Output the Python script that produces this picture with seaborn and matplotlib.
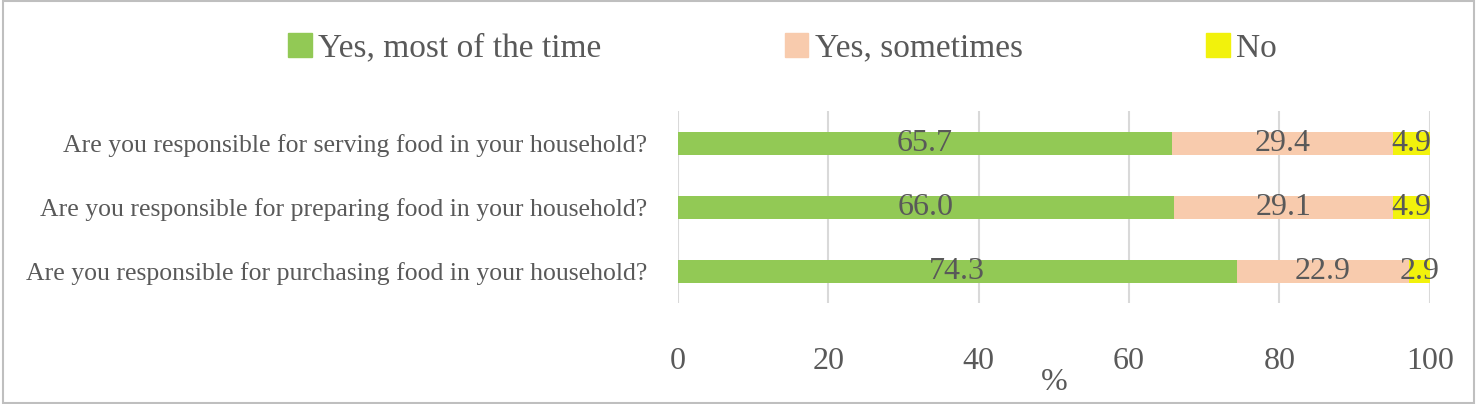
import matplotlib
matplotlib.use("Agg")
import matplotlib.pyplot as plt
import seaborn as sns
import pandas as pd
import numpy as np

categories = ["Are you responsible for serving food in your household?",
              "Are you responsible for preparing food in your household?",
              "Are you responsible for purchasing food in your household?"]
most = [65.7, 66.0, 74.3]
sometimes = [29.4, 29.1, 22.9]
no = [4.9, 4.9, 2.9]
series = ["Yes, most of the time", "Yes, sometimes", "No"]
colors = ["#92C955", "#F8CBAD", "#F2F20C"]

sns.set_style("white")
plt.rcParams['font.family'] = ['Liberation Serif', 'DejaVu Serif']

fig = plt.figure(figsize=(14.77, 4.04), dpi=100)
ax = fig.add_axes([0.459, 0.25, 0.509, 0.475])

m = np.array(most); s = np.array(sometimes); n = np.array(no)
cums = [m + s + n, m + s, m]
for vals, col in zip(cums, colors[::-1]):
    df = pd.DataFrame({"cat": categories, "v": vals})
    sns.barplot(data=df, x="v", y="cat", color=col, width=0.36, ax=ax,
                saturation=1, edgecolor="none", zorder=3)

starts = [np.zeros(3), m, m + s]
for st, vals in zip(starts, [m, s, n]):
    for i, (a, v) in enumerate(zip(st, vals)):
        ax.text(a + v / 2, i, f"{v:.1f}", ha="center", va="center",
                fontsize=23, color="#595959", zorder=5)

ax.set_xlim(0, 100)
ax.set_ylim(2.5, -0.5)
ax.set_xticks(range(0, 101, 20))
ax.grid(axis="x", color="#D9D9D9", linewidth=1.5, zorder=0)
for sp in ax.spines.values():
    sp.set_visible(False)
ax.tick_params(axis="x", labelsize=23, colors="#595959", pad=32, length=0)
ax.tick_params(axis="y", labelsize=18.5, colors="#595959", length=0, pad=22)
ax.set_ylabel("")
ax.set_xlabel("%", fontsize=23, color="#595959", labelpad=-6)

handles = [plt.Rectangle((0, 0), 1, 1, color=c) for c in colors]
fig.legend(handles, series, loc="center", bbox_to_anchor=(0.53, 0.88), ncol=3,
           frameon=False, fontsize=24, labelcolor="#595959", handlelength=0.7,
           handleheight=0.7, columnspacing=5.5, handletextpad=0.2)

fig.patches.append(plt.Rectangle((0.002, 0.003), 0.996, 0.994, transform=fig.transFigure,
                                 fill=False, edgecolor="#BFBFBF", linewidth=1.5))
fig.savefig("out.png", dpi=100)
